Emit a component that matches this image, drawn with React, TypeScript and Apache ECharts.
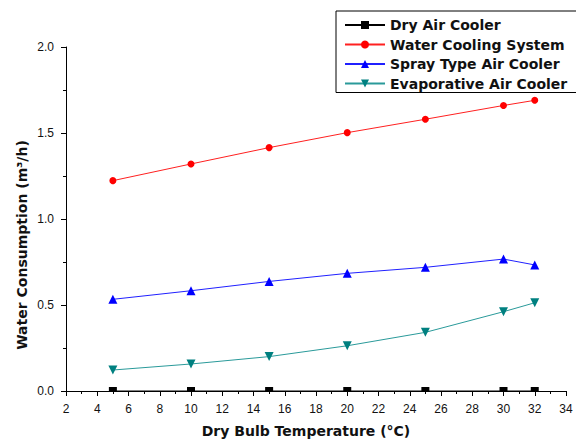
import React, { useEffect, useRef } from "react";
import * as echarts from "echarts";

const temperatures = [5, 10, 15, 20, 25, 30, 32];
const dryAirCooler = [0, 0, 0, 0, 0, 0, 0];
const waterCoolingSystem = [1.223, 1.32, 1.415, 1.502, 1.58, 1.66, 1.69];
const sprayTypeAirCooler = [0.533, 0.583, 0.637, 0.684, 0.719, 0.767, 0.733];
const evaporativeAirCooler = [0.122, 0.157, 0.2, 0.263, 0.341, 0.461, 0.513];

const pairs = (ys: number[]) => temperatures.map((x, i) => [x, ys[i]]);

const FONT = "'Liberation Sans', Arial, sans-serif";
const BOLD_FONT = "'DejaVu Sans', Verdana, sans-serif";

export default function App() {
  const ref = useRef<HTMLDivElement>(null);
  useEffect(() => {
    if (!ref.current) return;
    const chart = echarts.init(ref.current, null, { renderer: "svg" });
    chart.setOption({
      animation: false,
      backgroundColor: "#ffffff",
      textStyle: { fontFamily: FONT },
      grid: { left: 66, right: 10, top: 47, bottom: 48, containLabel: false, outerBoundsMode: "none" },
      graphic: [
        {
          type: "text",
          x: 22,
          y: 245,
          rotation: Math.PI / 2,
          style: {
            text: "Water Consumption (m³/h)",
            fontFamily: BOLD_FONT,
            fontSize: 14,
            fontWeight: "bold",
            fill: "#111",
            textAlign: "center",
            textVerticalAlign: "middle",
          },
        },
      ],
      legend: {
        left: 336,
        top: 11,
        orient: "vertical",
        padding: [7, 10, 2, 8],
        itemGap: 5.5,
        itemWidth: 40,
        itemHeight: 10,
        borderColor: "#000",
        borderWidth: 1,
        backgroundColor: "#fff",
        textStyle: { fontFamily: BOLD_FONT, fontSize: 14, fontWeight: "bold", color: "#111" },
        data: ["Dry Air Cooler", "Water Cooling System", "Spray Type Air Cooler", "Evaporative Air Cooler"],
      },
      xAxis: {
        type: "value",
        min: 2,
        max: 34,
        interval: 2,
        name: "Dry Bulb Temperature (°C)",
        nameLocation: "middle",
        nameGap: 33,
        nameTextStyle: { fontFamily: BOLD_FONT, fontSize: 14, fontWeight: "bold", color: "#111", padding: [0, 20, 0, 0] },
        axisLine: { lineStyle: { color: "#000", width: 1 } },
        axisTick: { length: 5, lineStyle: { color: "#000" } },
        minorTick: { show: true, splitNumber: 2, length: 3, lineStyle: { color: "#000" } },
        splitLine: { show: false },
        axisLabel: { fontFamily: FONT, fontSize: 12, color: "#111", margin: 12 },
      },
      yAxis: {
        type: "value",
        min: 0,
        max: 2,
        interval: 0.5,
        axisLine: { show: true, lineStyle: { color: "#000", width: 1 } },
        axisTick: { show: true, length: 5, lineStyle: { color: "#000" } },
        minorTick: { show: true, splitNumber: 2, length: 3, lineStyle: { color: "#000" } },
        splitLine: { show: false },
        axisLabel: { fontFamily: FONT, fontSize: 12, color: "#111", margin: 12, formatter: (v: number) => v.toFixed(1) },
      },
      series: [
        {
          name: "Dry Air Cooler",
          type: "line",
          data: pairs(dryAirCooler),
          symbol: "rect",
          symbolSize: [8, 4],
          symbolOffset: [0, -2],
          color: "#000",
          lineStyle: { color: "#000", width: 1 },
          itemStyle: { color: "#000" },
          z: 3,
        },
        {
          name: "Water Cooling System",
          type: "line",
          data: pairs(waterCoolingSystem),
          symbol: "circle",
          symbolSize: 7,
          color: "#ff0000",
          lineStyle: { color: "#ff2020", width: 1 },
          itemStyle: { color: "#ff0000" },
        },
        {
          name: "Spray Type Air Cooler",
          type: "line",
          data: pairs(sprayTypeAirCooler),
          symbol: "triangle",
          symbolSize: 9,
          color: "#0000ff",
          lineStyle: { color: "#2020ff", width: 1 },
          itemStyle: { color: "#0000ff" },
        },
        {
          name: "Evaporative Air Cooler",
          type: "line",
          data: pairs(evaporativeAirCooler),
          symbol: "triangle",
          symbolRotate: 180,
          symbolSize: 9,
          color: "#008080",
          lineStyle: { color: "#2a9a9a", width: 1 },
          itemStyle: { color: "#008080" },
        },
      ],
    });
    return () => chart.dispose();
  }, []);
  return <div ref={ref} style={{ width: 576, height: 439, position: "absolute", left: 0, top: 0 }} />;
}
